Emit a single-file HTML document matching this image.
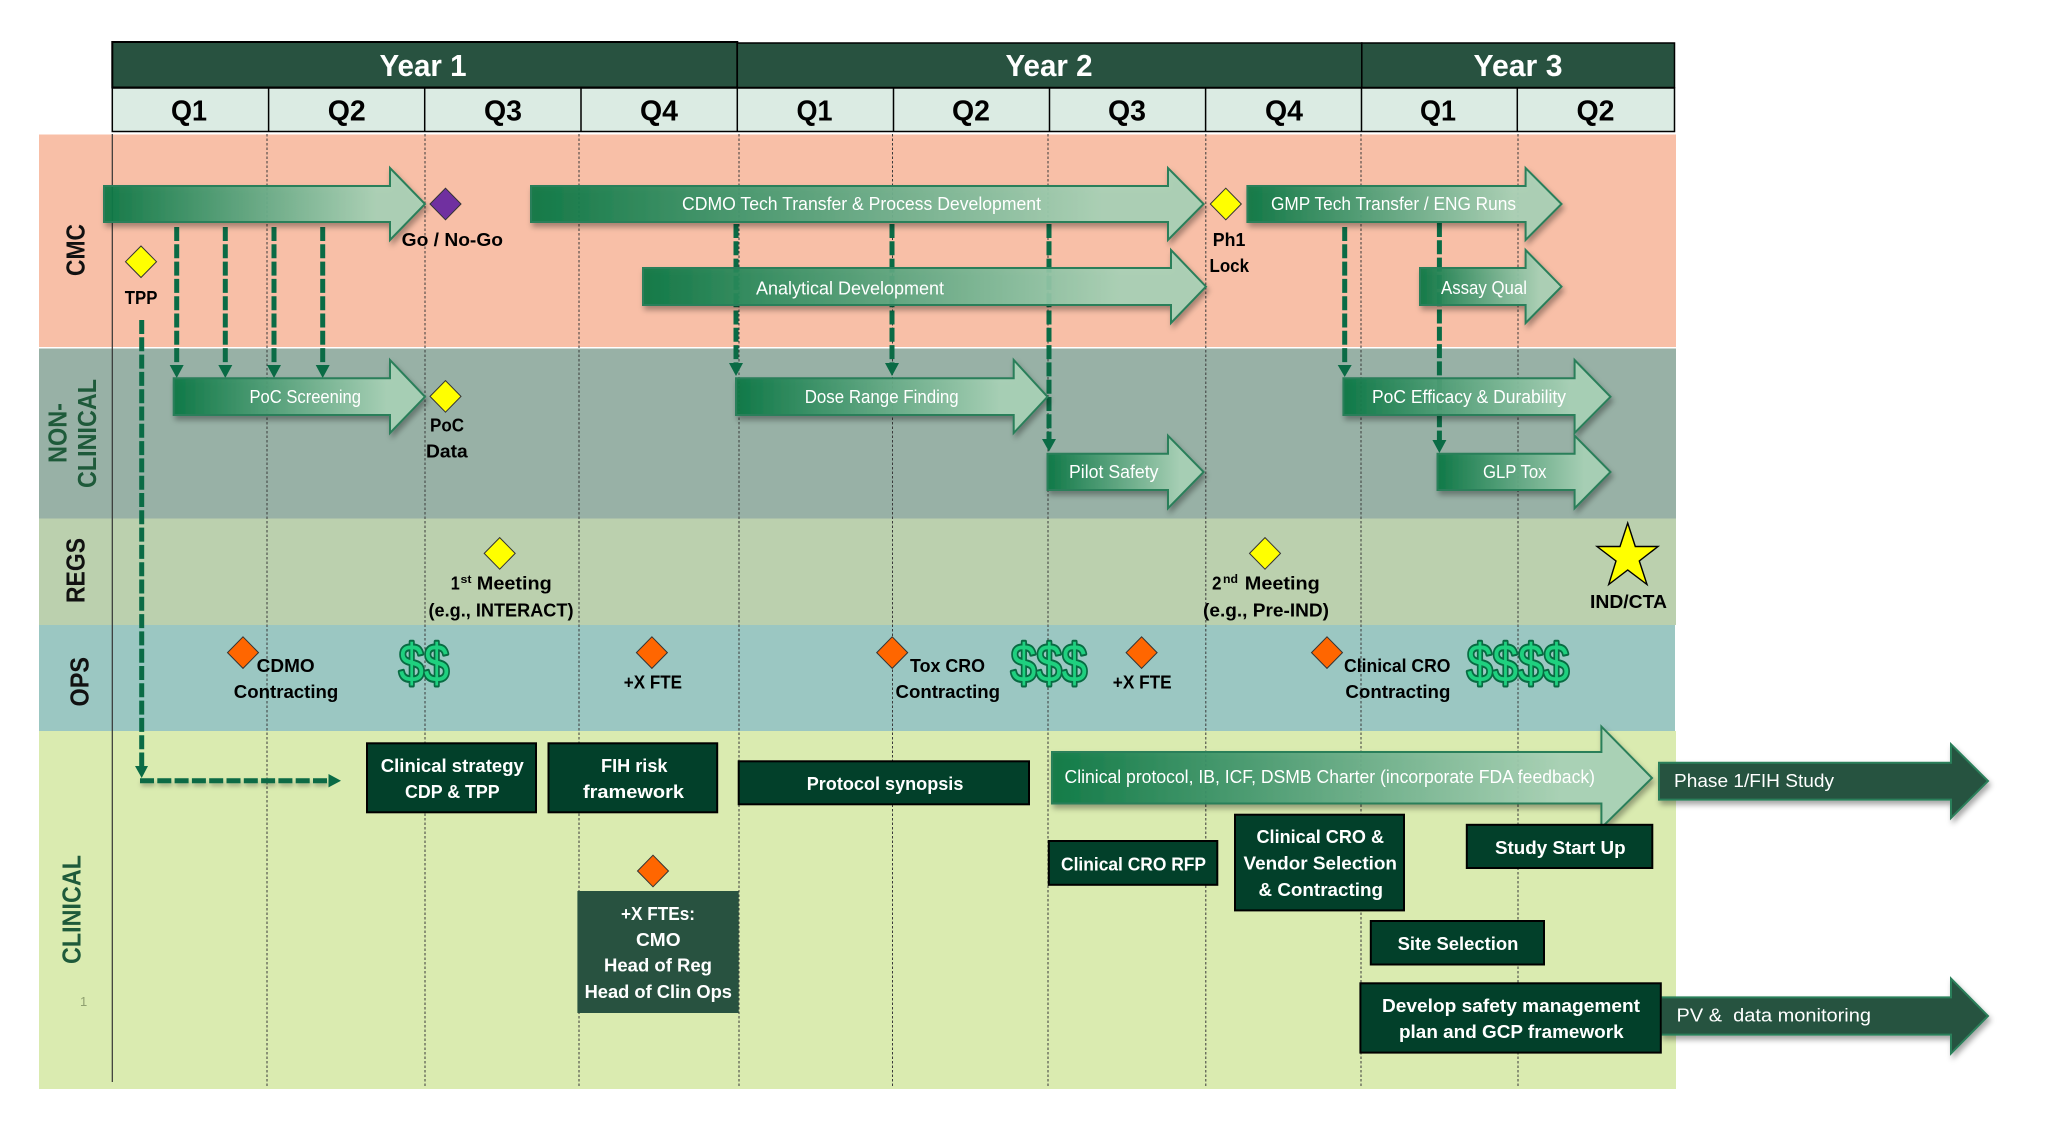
<!DOCTYPE html>
<html><head><meta charset="utf-8"><title>Timeline</title>
<style>
html,body{margin:0;padding:0;background:#fff;width:2048px;height:1132px;overflow:hidden}
svg{display:block}
text{font-family:"Liberation Sans",sans-serif}
.w{fill:#fff;font-size:18px}
.b{fill:#000;font-size:18.5px;font-weight:bold}
.bw{fill:#fff;font-size:18.5px;font-weight:bold}
.q{fill:#000;font-size:29px;font-weight:bold;text-anchor:middle}
.y{fill:#fff;font-size:30.5px;font-weight:bold;text-anchor:middle}
.s{font-size:25.5px;font-weight:bold}
.d{fill:#1fd07f;stroke:#086b42;stroke-width:4px;paint-order:stroke;font-size:54px;stroke-linejoin:round}
.ar{stroke:#2a7f5a;stroke-width:2;fill:url(#g);fill-opacity:.93;filter:url(#sh)}
.dk{stroke:#2a7f5a;stroke-width:2;fill:#285240;filter:url(#sh)}
.box{fill:#02402a;stroke:#000;stroke-width:2}
.gl{stroke:#3a3a3a;stroke-width:1;stroke-dasharray:2.5 2;fill:none}
.da{stroke:#0a6b45;stroke-width:5;stroke-dasharray:14 3.3;fill:none}
.ah{fill:#0a6b45}
.dm{stroke:#333;stroke-width:1}
</style></head>
<body>
<svg width="2048" height="1132" viewBox="0 0 2048 1132" xmlns="http://www.w3.org/2000/svg">
<defs>
<linearGradient id="g" x1="0" x2="1" y1="0" y2="0">
<stop offset="0" stop-color="#0a7744"/><stop offset=".85" stop-color="#a9d2b7"/><stop offset="1" stop-color="#a9d2b7"/>
</linearGradient>
<filter id="sh" x="-10%" y="-20%" width="120%" height="150%"><feDropShadow dx="2" dy="4" stdDeviation="3" flood-color="#000" flood-opacity=".35"/></filter>
<filter id="sl" filterUnits="userSpaceOnUse" x="0" y="0" width="2048" height="1132"><feDropShadow dx="1" dy="3" stdDeviation="2" flood-color="#000" flood-opacity=".25"/></filter>
</defs>

<!-- bands -->
<rect x="39" y="134.5" width="1637" height="212.5" fill="#f8bfa7"/>
<rect x="39" y="348.5" width="1637" height="170" fill="#98b1a6"/>
<rect x="39" y="518.5" width="1637" height="106.5" fill="#bbd0ae"/>
<rect x="39" y="625" width="1636" height="106" fill="#9bc7c2"/>
<rect x="39" y="731" width="1637" height="358" fill="#daebb0"/>

<!-- grid -->
<line x1="112.3" y1="134" x2="112.3" y2="1082" stroke="#333" stroke-width="1.2"/>
<path class="gl" d="M267 134V1086M425 134V1086M579 134V1086M739 134V1086M892.5 134V1086M1048 134V1086M1205.8 134V1086M1361 134V1086M1518 134V1086"/>

<!-- header -->
<rect x="112.3" y="42" width="625" height="45.5" fill="#285240" stroke="#000" stroke-width="2"/>
<rect x="737.3" y="43" width="624.5" height="44.5" fill="#285240" stroke="#000" stroke-width="1.5"/>
<rect x="1361.8" y="43" width="312.7" height="44.5" fill="#285240" stroke="#000" stroke-width="1.5"/>
<rect x="112.3" y="88" width="1562.2" height="43.5" fill="#dbebe3" stroke="#000" stroke-width="1.5"/>
<path stroke="#000" stroke-width="1.5" d="M268.6 88V131.5M424.7 88V131.5M581 88V131.5M737.3 88V131.5M893.5 88V131.5M1049.5 88V131.5M1205.6 88V131.5M1361.5 88V131.5M1517.3 88V131.5"/>
<text class="y" x="423" y="76" textLength="87" lengthAdjust="spacingAndGlyphs">Year 1</text>
<text class="y" x="1049" y="76" textLength="87" lengthAdjust="spacingAndGlyphs">Year 2</text>
<text class="y" x="1518" y="76" textLength="89" lengthAdjust="spacingAndGlyphs">Year 3</text>
<text class="q" x="189" y="120.7" textLength="36" lengthAdjust="spacingAndGlyphs">Q1</text><text class="q" x="346.7" y="120.7" textLength="38" lengthAdjust="spacingAndGlyphs">Q2</text><text class="q" x="503" y="120.7" textLength="38" lengthAdjust="spacingAndGlyphs">Q3</text><text class="q" x="659" y="120.7" textLength="38" lengthAdjust="spacingAndGlyphs">Q4</text><text class="q" x="814.5" y="120.7" textLength="36" lengthAdjust="spacingAndGlyphs">Q1</text><text class="q" x="971" y="120.7" textLength="38" lengthAdjust="spacingAndGlyphs">Q2</text><text class="q" x="1127" y="120.7" textLength="38" lengthAdjust="spacingAndGlyphs">Q3</text><text class="q" x="1284" y="120.7" textLength="38" lengthAdjust="spacingAndGlyphs">Q4</text><text class="q" x="1438" y="120.7" textLength="36" lengthAdjust="spacingAndGlyphs">Q1</text><text class="q" x="1595.5" y="120.7" textLength="38" lengthAdjust="spacingAndGlyphs">Q2</text>

<!-- side labels -->
<text class="s" transform="translate(84.3,276) rotate(-90)" textLength="52" lengthAdjust="spacingAndGlyphs" fill="#111">CMC</text>
<text class="s" transform="translate(66.7,463) rotate(-90)" textLength="60" lengthAdjust="spacingAndGlyphs" fill="#1e5a3a">NON-</text>
<text class="s" transform="translate(96,488) rotate(-90)" textLength="109" lengthAdjust="spacingAndGlyphs" fill="#1e5a3a">CLINICAL</text>
<text class="s" transform="translate(84.5,603) rotate(-90)" textLength="65" lengthAdjust="spacingAndGlyphs" fill="#111">REGS</text>
<text class="s" transform="translate(88.3,706.5) rotate(-90)" textLength="49.5" lengthAdjust="spacingAndGlyphs" fill="#111">OPS</text>
<text class="s" transform="translate(80.5,964) rotate(-90)" textLength="109" lengthAdjust="spacingAndGlyphs" fill="#1e5a3a">CLINICAL</text>
<text x="80" y="1006" font-size="13" fill="#8fa070">1</text>

<!-- dashed connectors -->
<path class="da" d="M176.7 227V366M225.3 227V366M274 227V366M322.7 227V366"/>
<path class="ah" d="M169.7 365H183.7L176.7 378ZM218.3 365H232.3L225.3 378ZM267 365H281L274 378ZM315.7 365H329.7L322.7 378Z"/>
<path class="da" d="M736 224V364M892 224V364M1049 224V440M1344.7 227V366M1439.4 223V440"/>
<path class="ah" d="M729 363H743L736 376ZM885 363H899L892 376ZM1042 439H1056L1049 451.5ZM1337.7 365H1351.7L1344.7 377ZM1432.4 440H1446.4L1439.4 453Z"/>
<path class="da" d="M141.7 320V767"/>
<path class="ah" d="M135 766H148L141.7 778Z"/>
<path class="da" d="M140 780.7H329" filter="url(#sl)"/>
<path class="ah" d="M328.5 774V787.4L341 780.7Z"/>

<!-- arrows -->
<polygon class="ar" points="104,186 390,186 390,168 425,204 390,240 390,222 104,222"/>
<polygon class="ar" points="531,186 1168,186 1168,168 1203.6,204 1168,240 1168,222 531,222"/>
<polygon class="ar" points="643,268 1171,268 1171,250 1206,286.6 1171,323 1171,305 643,305"/>
<polygon class="ar" points="1247.4,186 1525.6,186 1525.6,168 1561.5,204 1525.6,240 1525.6,222 1247.4,222"/>
<polygon class="ar" points="1420,268 1525.6,268 1525.6,250 1561.5,286.6 1525.6,323 1525.6,305 1420,305"/>
<polygon class="ar" points="173.7,378.3 390,378.3 390,360 425,396.8 390,433 390,415 173.7,415"/>
<polygon class="ar" points="736,378.3 1013.7,378.3 1013.7,360 1047.5,396.8 1013.7,433 1013.7,415 736,415"/>
<polygon class="ar" points="1343.4,378.3 1574.6,378.3 1574.6,360 1610.5,396.8 1574.6,433 1574.6,415 1343.4,415"/>
<polygon class="ar" points="1047.5,453.8 1168,453.8 1168,435.7 1203.6,472 1168,508.3 1168,490 1047.5,490"/>
<polygon class="ar" points="1437.5,453.8 1574.6,453.8 1574.6,435.7 1610.5,472 1574.6,508.3 1574.6,490 1437.5,490"/>
<polygon class="ar" points="1052,752 1601.4,752 1601.4,726.6 1652,778 1601.4,827.7 1601.4,803.5 1052,803.5"/>
<polygon class="dk" points="1659,762.8 1951,762.8 1951,744.3 1988,781 1951,818 1951,799.6 1659,799.6"/>
<polygon class="dk" points="1661,997.4 1951,997.4 1951,978.6 1988,1016 1951,1053.4 1951,1034.6 1661,1034.6"/>

<!-- arrow labels -->
<text class="w" x="682" y="210" textLength="359" lengthAdjust="spacingAndGlyphs">CDMO Tech Transfer &amp; Process Development</text>
<text class="w" x="756" y="294.5" textLength="188" lengthAdjust="spacingAndGlyphs">Analytical Development</text>
<text class="w" x="1271" y="210" textLength="245" lengthAdjust="spacingAndGlyphs">GMP Tech Transfer / ENG Runs</text>
<text class="w" x="1441" y="294" textLength="86" lengthAdjust="spacingAndGlyphs">Assay Qual</text>
<text class="w" x="249.5" y="403" textLength="111.5" lengthAdjust="spacingAndGlyphs">PoC Screening</text>
<text class="w" x="804.7" y="403" textLength="154" lengthAdjust="spacingAndGlyphs">Dose Range Finding</text>
<text class="w" x="1372" y="403" textLength="194" lengthAdjust="spacingAndGlyphs">PoC Efficacy &amp; Durability</text>
<text class="w" x="1069" y="478" textLength="89.5" lengthAdjust="spacingAndGlyphs">Pilot Safety</text>
<text class="w" x="1483" y="478" textLength="63.5" lengthAdjust="spacingAndGlyphs">GLP Tox</text>
<text class="w" x="1064.5" y="783" textLength="530.5" lengthAdjust="spacingAndGlyphs">Clinical protocol, IB, ICF, DSMB Charter (incorporate FDA feedback)</text>
<text class="w" x="1674" y="787" textLength="160" lengthAdjust="spacingAndGlyphs">Phase 1/FIH Study</text>
<text class="w" x="1676.5" y="1021.5" textLength="194.5" lengthAdjust="spacingAndGlyphs" xml:space="preserve">PV &amp;  data monitoring</text>

<!-- diamonds -->
<g class="dm" fill="#ffff00">
<polygon points="141,246 156.5,261.7 141,277.5 125.5,261.7"/>
<polygon points="445.5,380.6 461,396.4 445.5,412.2 430,396.4"/>
<polygon points="1225.8,188.2 1241.3,204 1225.8,219.8 1210.3,204"/>
<polygon points="499.7,537.6 515.2,553.4 499.7,569.2 484.2,553.4"/>
<polygon points="1265,537.6 1280.5,553.4 1265,569.2 1249.5,553.4"/>
</g>
<polygon class="dm" fill="#7030a0" points="445.5,188.2 461,204 445.5,219.8 430,204"/>
<g class="dm" fill="#ff6600">
<polygon points="243,636.8 258.5,652.6 243,668.4 227.5,652.6"/>
<polygon points="651.9,636.8 667.4,652.6 651.9,668.4 636.4,652.6"/>
<polygon points="892.2,636.8 907.7,652.6 892.2,668.4 876.7,652.6"/>
<polygon points="1141.6,636.8 1157.1,652.6 1141.6,668.4 1126.1,652.6"/>
<polygon points="1327,636.8 1342.5,652.6 1327,668.4 1311.5,652.6"/>
<polygon points="653,855.2 668.5,871 653,886.8 637.5,871"/>
</g>
<polygon fill="#ffff00" stroke="#000" stroke-width="1.4" points="1627.7,523 1635.3,546.5 1658,546.5 1639.3,561 1647,584.5 1627.7,570 1608.7,584.5 1616,561 1597,546.5 1620,546.5"/>

<!-- black labels -->
<text class="b" x="401.7" y="246" textLength="101.3" lengthAdjust="spacingAndGlyphs">Go / No-Go</text>
<text class="b" x="124.8" y="304" textLength="32.6" lengthAdjust="spacingAndGlyphs">TPP</text>
<text class="b" x="430" y="431.4" textLength="34" lengthAdjust="spacingAndGlyphs">PoC</text>
<text class="b" x="426" y="457.4" textLength="41.7" lengthAdjust="spacingAndGlyphs">Data</text>
<text class="b" x="1212.8" y="246" textLength="32.6" lengthAdjust="spacingAndGlyphs">Ph1</text>
<text class="b" x="1209.5" y="272" textLength="39.5" lengthAdjust="spacingAndGlyphs">Lock</text>
<text class="b" x="450.7" y="589.5" textLength="9" lengthAdjust="spacingAndGlyphs">1</text>
<text class="b" x="460.5" y="583" style="font-size:11px" textLength="11" lengthAdjust="spacingAndGlyphs">st</text>
<text class="b" x="476.8" y="589.5" textLength="75" lengthAdjust="spacingAndGlyphs">Meeting</text>
<text class="b" x="428.5" y="616.5" textLength="145" lengthAdjust="spacingAndGlyphs">(e.g., INTERACT)</text>
<text class="b" x="1212" y="589.5" textLength="9.5" lengthAdjust="spacingAndGlyphs">2</text>
<text class="b" x="1223" y="583" style="font-size:12px" textLength="15" lengthAdjust="spacingAndGlyphs">nd</text>
<text class="b" x="1244.8" y="589.5" textLength="75" lengthAdjust="spacingAndGlyphs">Meeting</text>
<text class="b" x="1203" y="616.5" textLength="126" lengthAdjust="spacingAndGlyphs">(e.g., Pre-IND)</text>
<text class="b" x="1590" y="608" textLength="77" lengthAdjust="spacingAndGlyphs">IND/CTA</text>
<text class="b" x="256.7" y="671.8" textLength="58" lengthAdjust="spacingAndGlyphs">CDMO</text>
<text class="b" x="233.8" y="697.8" textLength="104.5" lengthAdjust="spacingAndGlyphs">Contracting</text>
<text class="b" x="623.8" y="688.7" textLength="58.2" lengthAdjust="spacingAndGlyphs">+X FTE</text>
<text class="b" x="910" y="671.8" textLength="75" lengthAdjust="spacingAndGlyphs">Tox CRO</text>
<text class="b" x="895.5" y="697.8" textLength="104.5" lengthAdjust="spacingAndGlyphs">Contracting</text>
<text class="b" x="1112.8" y="688.7" textLength="58.8" lengthAdjust="spacingAndGlyphs">+X FTE</text>
<text class="b" x="1344" y="671.8" textLength="106.5" lengthAdjust="spacingAndGlyphs">Clinical CRO</text>
<text class="b" x="1345.4" y="697.8" textLength="105" lengthAdjust="spacingAndGlyphs">Contracting</text>

<!-- dollars -->
<text class="d" x="399" y="682" textLength="50" lengthAdjust="spacingAndGlyphs">$$</text>
<text class="d" x="1011" y="682" textLength="76" lengthAdjust="spacingAndGlyphs">$$$</text>
<text class="d" x="1467" y="682" textLength="102" lengthAdjust="spacingAndGlyphs">$$$$</text>

<!-- boxes -->
<rect class="box" x="367" y="743.3" width="169" height="69"/>
<rect class="box" x="548.5" y="743.3" width="168.7" height="69"/>
<rect class="box" x="738.7" y="761.3" width="290.3" height="43"/>
<rect x="577.4" y="891" width="161.3" height="122" fill="#285240"/>
<rect class="box" x="1048.8" y="841" width="168.5" height="43.8"/>
<rect class="box" x="1235" y="814.7" width="169" height="95.7"/>
<rect class="box" x="1466.8" y="824.8" width="185.5" height="43.2"/>
<rect class="box" x="1370.8" y="921" width="173.2" height="43.5"/>
<rect class="box" x="1360.4" y="983.3" width="300.4" height="69.3"/>

<text class="bw" x="380.8" y="772" textLength="143" lengthAdjust="spacingAndGlyphs">Clinical strategy</text>
<text class="bw" x="405" y="797.8" textLength="94.7" lengthAdjust="spacingAndGlyphs">CDP &amp; TPP</text>
<text class="bw" x="601" y="772" textLength="66.5" lengthAdjust="spacingAndGlyphs">FIH risk</text>
<text class="bw" x="583" y="797.8" textLength="101" lengthAdjust="spacingAndGlyphs">framework</text>
<text class="bw" x="806.7" y="789.8" textLength="156.7" lengthAdjust="spacingAndGlyphs">Protocol synopsis</text>
<text class="bw" x="621" y="919.8" textLength="74" lengthAdjust="spacingAndGlyphs">+X FTEs:</text>
<text class="bw" x="636" y="945.8" textLength="44.6" lengthAdjust="spacingAndGlyphs">CMO</text>
<text class="bw" x="604" y="971.4" textLength="108" lengthAdjust="spacingAndGlyphs">Head of Reg</text>
<text class="bw" x="584.6" y="997.8" textLength="147.4" lengthAdjust="spacingAndGlyphs">Head of Clin Ops</text>
<text class="bw" x="1061" y="870.3" textLength="145" lengthAdjust="spacingAndGlyphs">Clinical CRO RFP</text>
<text class="bw" x="1256.5" y="843" textLength="127.5" lengthAdjust="spacingAndGlyphs">Clinical CRO &amp;</text>
<text class="bw" x="1243.5" y="869.6" textLength="153.5" lengthAdjust="spacingAndGlyphs">Vendor Selection</text>
<text class="bw" x="1258.5" y="896" textLength="124.5" lengthAdjust="spacingAndGlyphs">&amp; Contracting</text>
<text class="bw" x="1495" y="854" textLength="130.6" lengthAdjust="spacingAndGlyphs">Study Start Up</text>
<text class="bw" x="1397.6" y="949.8" textLength="120.8" lengthAdjust="spacingAndGlyphs">Site Selection</text>
<text class="bw" x="1382" y="1012" textLength="258" lengthAdjust="spacingAndGlyphs">Develop safety management</text>
<text class="bw" x="1399" y="1038" textLength="224.6" lengthAdjust="spacingAndGlyphs">plan and GCP framework</text>
</svg>
</body></html>
